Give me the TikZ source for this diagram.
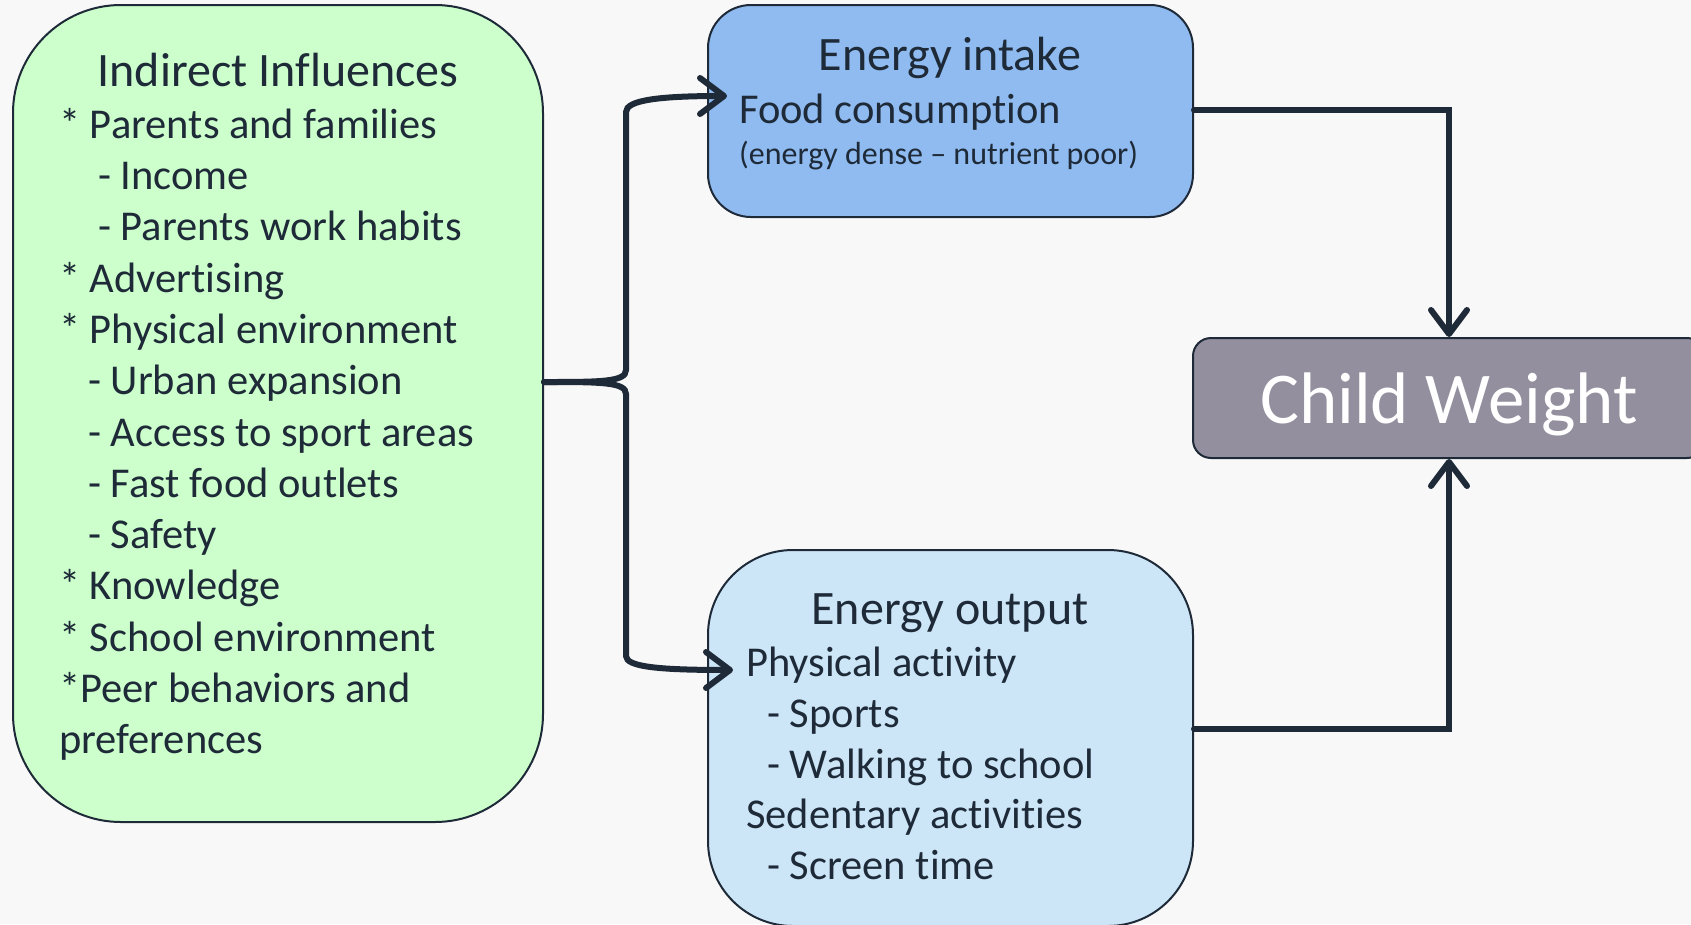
\documentclass[tikz,border=0pt]{standalone}
\usepackage{fontspec}
\setmainfont{Carlito}[Ligatures=NoCommon]
\usepackage{xcolor}
\usetikzlibrary{arrows.meta}

\definecolor{tinta}{RGB}{30,42,56}
\definecolor{verde}{RGB}{204,255,204}
\definecolor{ingesta}{RGB}{143,187,240}
\definecolor{gasto}{RGB}{204,230,248}
\definecolor{peso}{RGB}{148,143,158}
\definecolor{fondo}{RGB}{248,248,248}

\tikzset{
    caja/.style={draw=tinta, line width=2pt, inner sep=0pt},
    titulo/.style={font=\fontsize{48}{58}\selectfont, text=tinta, inner sep=0pt, anchor=base},
    linea/.style={font=\fontsize{42.5}{51}\selectfont, text=tinta, inner sep=0pt, anchor=base west},
    nota/.style={font=\fontsize{32}{39}\selectfont, text=tinta, inner sep=0pt, anchor=base west},
    flecha/.style={draw=tinta, line width=6pt, line cap=round,
        -{Straight Barb[round, length=24pt, width=36pt, line width=6pt]}}
}

\begin{document}
\begin{tikzpicture}[x=1pt,y=-1pt]

    % fondo
    \fill[fondo] (0,0) rectangle (1691,924);
    \useasboundingbox (0,0) rectangle (1691,924);

    % influencias indirectas
    \node[caja, fill=verde, rounded corners=108pt, minimum width=530pt, minimum height=817pt] (ii) at (278,413.5) {};
    \node[titulo] (ii-t) at (278,86) {Indirect Influences};
    \foreach \n/\xx/\yy/\txt in {1/59/138/{* Parents and families},
                                 2/98/189/{- Income},
                                 3/98/240/{- Parents work habits},
                                 4/59/292/{* Advertising},
                                 5/59/343/{* Physical environment},
                                 6/88/394/{- Urban expansion},
                                 7/88/446/{- Access to sport areas},
                                 8/88/497/{- Fast food outlets},
                                 9/88/548/{- Safety},
                                 10/59/599/{* Knowledge},
                                 11/59/651/{* School environment},
                                 12/59/702/{*Peer behaviors and},
                                 13/59/753/{preferences}}
        \node[linea] (ii-\n) at (\xx,\yy) {\txt};

    % ingesta de energia
    \node[caja, fill=ingesta, rounded corners=43pt, minimum width=485pt, minimum height=212pt] (ei) at (950.5,111) {};
    \node[titulo] (ei-t) at (950,70) {Energy intake};
    \node[linea] (ei-1) at (739,123) {Food consumption};
    \node[nota] (ei-2) at (739,164) {(energy dense -- nutrient poor)};

    % gasto de energia
    \node[caja, fill=gasto, rounded corners=85pt, minimum width=485pt, minimum height=376pt] (eo) at (950.5,738) {};
    \node[titulo] (eo-t) at (950,624) {Energy output};
    \foreach \n/\xx/\yy/\txt in {1/746/676/{Physical activity},
                                 2/767/727/{- Sports},
                                 3/767/778/{- Walking to school},
                                 4/746/828/{Sedentary activities},
                                 5/767/879/{- Screen time}}
        \node[linea] (eo-\n) at (\xx,\yy) {\txt};

    % peso del nino
    \node[caja, fill=peso, rounded corners=18pt, minimum width=512pt, minimum height=120pt] (cw) at (1449,398) {};
    \node[font=\fontsize{73}{88}\selectfont, text=white, inner sep=0pt, anchor=base] (cw-t) at (1449,423) {Child Weight};

    % llave hacia ingesta y gasto
    \coordinate (punta) at (ii.east |- 0,382);
    \coordinate (ei-in) at (727,96);
    \coordinate (eo-in) at (733,670);
    \draw[flecha] (punta) .. controls (600,382) and (626,382) .. (626,370)
        -- (626,112) .. controls (626,100) and (660,96) .. (ei-in);
    \draw[flecha] (punta) .. controls (600,382) and (626,382) .. (626,394)
        -- (626,656) .. controls (626,667) and (660,670) .. (eo-in);

    % hacia el peso
    \draw[flecha] (ei.east |- 0,110) -| (cw.north);
    \draw[flecha] (eo.east |- 0,729) -| (cw.south);

\end{tikzpicture}
\end{document}
